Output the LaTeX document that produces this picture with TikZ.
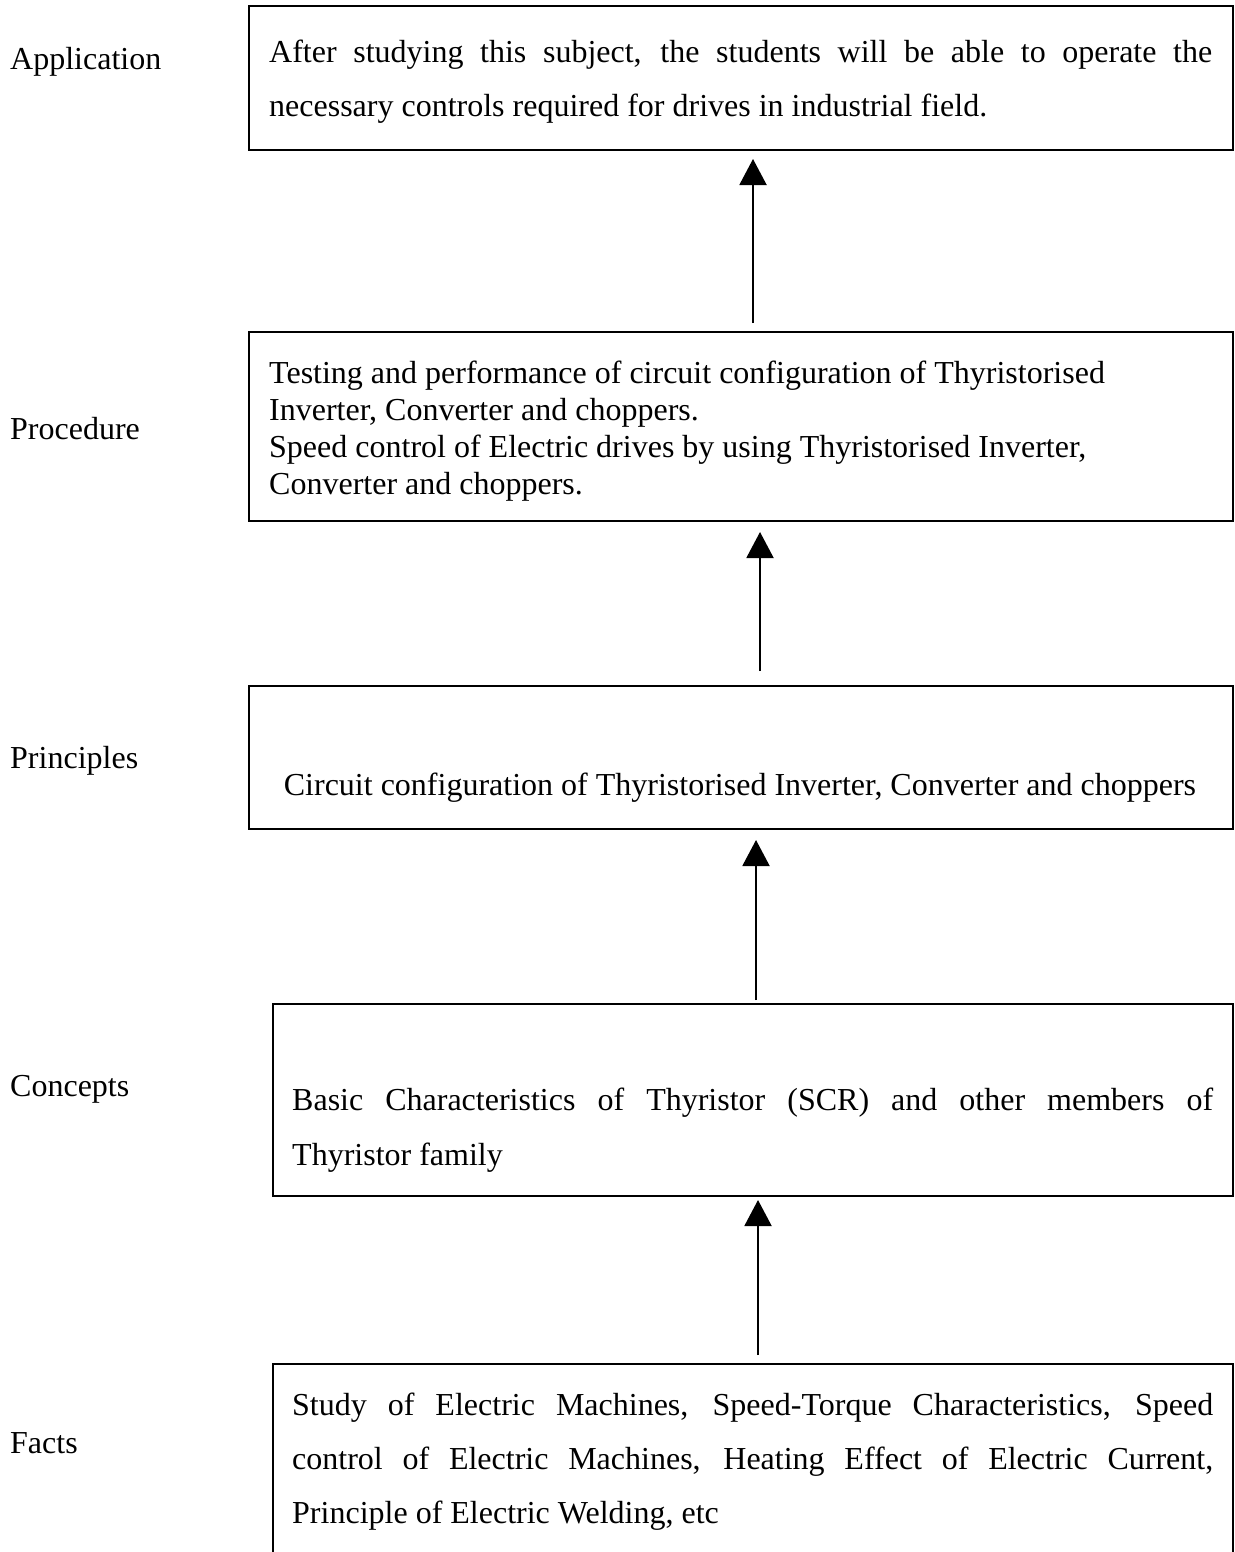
\documentclass[tikz,border=0pt]{standalone}
\usepackage{fontspec}
\setmainfont{Liberation Serif}
\usetikzlibrary{arrows.meta,calc}
\newcommand\jl[1]{\hbox to \linewidth{#1}}
\newcommand\fs{\fontsize{32pt}{37pt}\selectfont}
\begin{document}
\begin{tikzpicture}[x=1pt,y=1pt,
  box/.style={draw, line width=2pt, inner sep=0pt, anchor=north west},
  txt/.style={inner sep=0pt, anchor=base west, font=\fs},
  lbl/.style={inner sep=0pt, anchor=base west, font=\fs},
  arr/.style={line width=2pt, -{Triangle[length=26pt,width=27pt]}}]
\useasboundingbox (0,0) rectangle (1234,-1552);
\clip (0,0) rectangle (1234,-1552);
% boxes
\node[box, minimum width=984, minimum height=144] (app) at (248,-5) {};
\node[box, minimum width=984, minimum height=189] (proc) at (248,-331) {};
\node[box, minimum width=984, minimum height=143] (prin) at (248,-685) {};
\node[box, minimum width=960, minimum height=192] (conc) at (272,-1003) {};
\node[box, minimum width=960, minimum height=220] (fact) at (272,-1363) {};
% texts
\node[txt] (tapp) at (269,-63) {\parbox[t]{943pt}{\baselineskip=54pt
  \jl{After studying this subject, the students will be able to operate the}
  \jl{necessary controls required for drives in industrial field.\hfil}}};
\node[txt] (tproc) at (269,-383) {\parbox[t]{943pt}{\baselineskip=37pt
  \jl{Testing and performance of circuit configuration of Thyristorised\hfil}
  \jl{Inverter, Converter and choppers.\hfil}
  \jl{Speed control of Electric drives by using Thyristorised Inverter,\hfil}
  \jl{Converter and choppers.\hfil}}};
\node[inner sep=0pt, anchor=base, font=\fs] (tprin) at (740,-795)
  {Circuit configuration of Thyristorised Inverter, Converter and choppers};
\node[txt] (tconc) at (292,-1110) {\parbox[t]{921pt}{\baselineskip=55pt
  \jl{Basic Characteristics of Thyristor (SCR) and other members of}
  \jl{Thyristor family\hfil}}};
\node[txt] (tfact) at (292,-1415) {\parbox[t]{921pt}{\baselineskip=54pt
  \jl{Study of Electric Machines, Speed-Torque Characteristics, Speed}
  \jl{control of Electric Machines, Heating Effect of Electric Current,}
  \jl{Principle of Electric Welding, etc\hfil}}};
% labels
\node[lbl] (lapp) at (10,-70) {Application};
\node[lbl] (lproc) at (10,-439) {Procedure};
\node[lbl] (lprin) at (10,-768) {Principles};
\node[lbl] (lconc) at (10,-1096) {Concepts};
\node[lbl] (lfact) at (10,-1453) {Facts};
% arrows
\coordinate (s1) at ($(proc.north)+(12,8)$);
\coordinate (s2) at ($(prin.north)+(19,14)$);
\coordinate (s3) at ($(conc.north)+(3,3)$);
\coordinate (s4) at ($(fact.north)+(5,8)$);
\draw[arr] (s1) -- ($(s1 |- app.south)+(0,-8)$);
\draw[arr] (s2) -- ($(s2 |- proc.south)+(0,-10)$);
\draw[arr] (s3) -- ($(s3 |- prin.south)+(0,-10)$);
\draw[arr] (s4) -- ($(s4 |- conc.south)+(0,-3)$);
\end{tikzpicture}
\end{document}
